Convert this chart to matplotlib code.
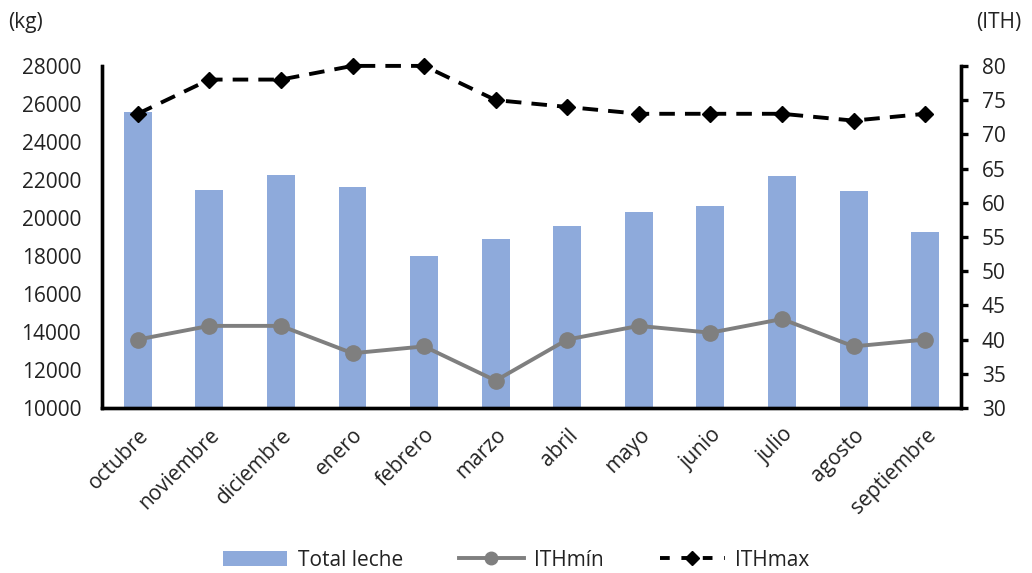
import numpy as np
import matplotlib
matplotlib.use('Agg')
import matplotlib.pyplot as plt

plt.rcParams['font.family'] = ['Open Sans', 'DejaVu Sans']

# monthly data
meses = ['octubre', 'noviembre', 'diciembre', 'enero', 'febrero', 'marzo',
         'abril', 'mayo', 'junio', 'julio', 'agosto', 'septiembre']
total_leche = [25550, 21450, 22250, 21650, 17980, 18900,
               19560, 20290, 20620, 22190, 21400, 19250]
ith_min = [40, 42, 42, 38, 39, 34, 40, 42, 41, 43, 39, 40]
ith_max = [73, 78, 78, 80, 80, 75, 74, 73, 73, 73, 72, 73]

x = np.arange(len(meses))
txt = '#222222'

fig = plt.figure(figsize=(10.32, 5.73), dpi=100)
ax = fig.add_axes([0.0988, 0.288, 0.8324, 0.597])
ax2 = ax.twinx()

bars = ax.bar(x, total_leche, width=0.39, color='#8eaadb', label='Total leche', zorder=1)
ax.set_ylim(10000, 28000)
ax.set_yticks(np.arange(10000, 28001, 2000))
ax.set_xlim(-0.5, len(meses) - 0.5)
ax.set_xticks(x)
ax.set_xticklabels(meses, rotation=45, ha='right', rotation_mode='anchor')

l1, = ax2.plot(x, ith_min, color='#7f7f7f', lw=2.8, marker='o', ms=11,
               label='ITHmín', zorder=3, clip_on=False)
l2, = ax2.plot(x, ith_max, color='black', lw=2.8, ls=(0, (4, 2.6)), marker='D',
               ms=8.5, label='ITHmax', zorder=4, clip_on=False)
ax2.set_ylim(30, 80)
ax2.set_yticks(np.arange(30, 81, 5))

for a in (ax, ax2):
    a.spines['top'].set_visible(False)
    for s in ('left', 'right', 'bottom'):
        a.spines[s].set_linewidth(2.4)
        a.spines[s].set_color('black')
    a.tick_params(labelsize=15, colors=txt)

ax.tick_params(axis='y', length=0, pad=15)
ax.tick_params(axis='x', length=0, pad=12)
ax2.tick_params(axis='y', length=5, width=2.4, color='black', pad=10)

fig.text(0.008, 0.96, '(kg)', fontsize=15, color=txt, ha='left', va='center')
fig.text(0.99, 0.96, '(ITH)', fontsize=15, color=txt, ha='right', va='center')

# legend handles drawn smaller than the plotted marks
h1 = plt.Line2D([], [], color='#7f7f7f', lw=2.8, marker='o', ms=9)
h2 = plt.Line2D([], [], color='black', lw=2.8, ls=(0, (2.5, 3)), marker='D', ms=7)
leg = fig.legend([bars, h1, h2], ['Total leche', 'ITHmín', 'ITHmax'],
                 loc='center', bbox_to_anchor=(0.5, 0.022), ncol=3, frameon=False,
                 fontsize=15, handlelength=3.1, handleheight=0.75,
                 columnspacing=2.7, handletextpad=0.5, labelcolor=txt)

fig.savefig('out.png', dpi=100)
